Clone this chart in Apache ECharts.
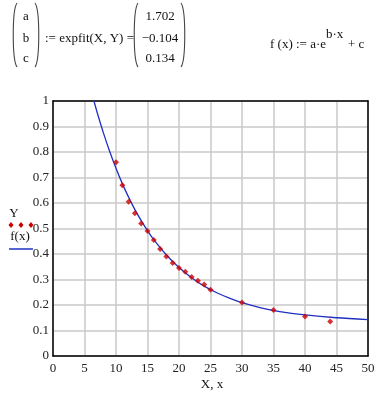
<!DOCTYPE html>
<html>
<head>
<meta charset="utf-8">
<script src="https://cdn.jsdelivr.net/npm/echarts@6/dist/echarts.min.js"></script>
<style>
html,body{margin:0;padding:0;background:#fff;}
#c{width:388px;height:400px;}
</style>
</head>
<body>
<div id="c"></div>
<script>
// Data points (X, Y)
const dataX = [10, 11, 12, 13, 14, 15, 16, 17, 18, 19, 20, 21, 22, 23, 24, 25, 30, 35, 40, 44];
const dataY = [0.76, 0.67, 0.605, 0.56, 0.52, 0.49, 0.455, 0.42, 0.39, 0.365, 0.345, 0.33, 0.31, 0.295, 0.28, 0.26, 0.21, 0.18, 0.155, 0.135];
// Fitted curve f(x)
const curveX = [6.5, 7, 8, 9, 10, 11, 12, 13, 14, 15, 16, 18, 20, 22, 24, 26, 28, 30, 33, 36, 40, 45, 50];
const curveY = [1.0, 0.956, 0.875, 0.802, 0.736, 0.676, 0.623, 0.574, 0.531, 0.492, 0.456, 0.396, 0.347, 0.307, 0.274, 0.248, 0.227, 0.209, 0.189, 0.174, 0.161, 0.150, 0.143];
// Fit parameters
const paramNames = ['a', 'b', 'c'];
const paramValues = ['1.702', '\u22120.104', '0.134'];
const xTicks = { min: 0, max: 50, interval: 5 };
const yTicks = { min: 0, max: 1, interval: 0.1 };

const FONT = '"Liberation Serif", "DejaVu Serif", serif';
const chart = echarts.init(document.getElementById('c'), null, { renderer: 'canvas' });

const pointData = dataX.map((x, i) => [x, dataY[i]]);
const curveData = curveX.map((x, i) => [x, curveY[i]]);

function paren(x, left) {
  const d = left ? -5 : 5;
  return {
    type: 'bezierCurve',
    shape: { x1: x, y1: 3, cpx1: x + d, cpy1: 10, cpx2: x + d, cpy2: 60, x2: x, y2: 67 },
    style: { stroke: '#444', lineWidth: 1.1, fill: null }
  };
}
function txt(x, y, s, opts) {
  return {
    type: 'text', x: x, y: y,
    style: Object.assign({ text: s, font: '13px ' + FONT, fill: '#111', textAlign: 'left', textVerticalAlign: 'middle' }, opts || {})
  };
}
function dot(cx, cy) {
  return { type: 'polygon', shape: { points: [[cx, cy - 3], [cx + 2.5, cy], [cx, cy + 3], [cx - 2.5, cy]] }, style: { fill: '#cc0000' } };
}

const graphics = [
  paren(17, true), paren(35, false),
  paren(138, true), paren(181, false),
  txt(26, 17, paramNames[0], { textAlign: 'center' }),
  txt(26, 39, paramNames[1], { textAlign: 'center' }),
  txt(26, 59, paramNames[2], { textAlign: 'center' }),
  txt(45, 39, ':= expfit(X, Y) ='),
  txt(160, 17, paramValues[0], { textAlign: 'center' }),
  txt(160, 39, paramValues[1], { textAlign: 'center' }),
  txt(160, 59, paramValues[2], { textAlign: 'center' }),
  txt(270, 45, 'f (x) := a\u00b7e'),
  txt(326, 35, 'b\u00b7x'),
  txt(348, 45, '+ c'),
  // legend
  txt(14, 214, 'Y', { textAlign: 'center' }),
  dot(11, 225), dot(21, 225), dot(31, 225),
  txt(20, 237, 'f(x)', { textAlign: 'center' }),
  { type: 'line', shape: { x1: 9, y1: 249, x2: 33, y2: 249 }, style: { stroke: '#2030c0', lineWidth: 1.5 } },
  txt(212, 385, 'X, x', { textAlign: 'center' })
];

const option = {
  backgroundColor: '#fff',
  animation: false,
  grid: { left: 53, top: 101, width: 315, height: 255, containLabel: false },
  xAxis: [{
    type: 'value', min: xTicks.min, max: xTicks.max, interval: xTicks.interval,
    axisLine: { show: true, onZero: false, lineStyle: { color: '#000', width: 1.5 } },
    axisTick: { show: false },
    axisLabel: { color: '#222', fontFamily: FONT, fontSize: 13, margin: 6 },
    splitLine: { show: true, lineStyle: { color: '#c8c8c8', width: 1.5 } }
  }, {
    type: 'value', position: 'top', min: xTicks.min, max: xTicks.max,
    axisLine: { show: true, onZero: false, lineStyle: { color: '#000', width: 1.5 } },
    axisTick: { show: false }, axisLabel: { show: false }, splitLine: { show: false }
  }],
  yAxis: [{
    type: 'value', min: yTicks.min, max: yTicks.max, interval: yTicks.interval,
    axisLine: { show: true, onZero: false, lineStyle: { color: '#000', width: 1.5 } },
    axisTick: { show: false },
    axisLabel: { color: '#222', fontFamily: FONT, fontSize: 13, margin: 4 },
    splitLine: { show: true, lineStyle: { color: '#c8c8c8', width: 1.5 } }
  }, {
    type: 'value', position: 'right', min: yTicks.min, max: yTicks.max,
    axisLine: { show: true, onZero: false, lineStyle: { color: '#000', width: 1.5 } },
    axisTick: { show: false }, axisLabel: { show: false }, splitLine: { show: false }
  }],
  series: [{
    name: 'f(x)', type: 'line', data: curveData, smooth: 0.3, showSymbol: false,
    clip: true, lineStyle: { color: '#2030c0', width: 1.3 }, z: 2
  }, {
    name: 'Y', type: 'scatter', data: pointData, symbol: 'diamond', symbolSize: 6,
    itemStyle: { color: '#cc0000' }, z: 3
  }],
  graphic: graphics
};
chart.setOption(option);
</script>
</body>
</html>
